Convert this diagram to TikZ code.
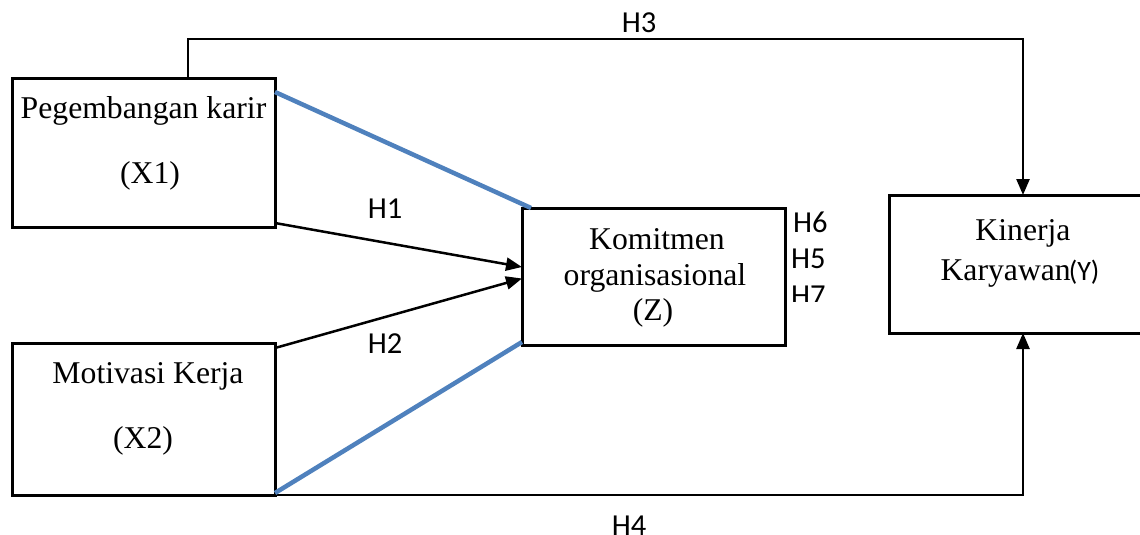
\documentclass[tikz,border=0pt]{standalone}
\usepackage{fontspec}
\setmainfont{Liberation Serif}
\newfontfamily\labelfont{Carlito}
\usetikzlibrary{arrows.meta,calc}
\definecolor{linkblue}{RGB}{79,129,189}
\begin{document}
\begin{tikzpicture}[x=1pt,y=-1pt,
  box/.style={draw,line width=3pt,inner sep=0pt,outer sep=0pt,fill=white},
  conn/.style={line width=2.5pt},
  arr/.style={conn,-{Triangle[length=16pt,width=13pt]}},
  blueline/.style={line width=4.5pt,draw=linkblue},
  txt/.style={anchor=base,inner sep=0pt,font=\fontsize{31.7}{38}\selectfont},
  hlab/.style={anchor=base,inner sep=0pt,font=\labelfont\fontsize{30.5}{36}\selectfont}]
\useasboundingbox (0,0) rectangle (1140,535);
\clip (0,0) rectangle (1140,535);

% variable boxes
\node[box,minimum width=263pt,minimum height=149pt] (x1) at (143.5,152.5) {};
\node[box,minimum width=263pt,minimum height=152pt] (x2) at (143.5,419) {};
\node[box,minimum width=263pt,minimum height=137pt] (z) at (653.5,276.5) {};
\node[box,minimum width=268pt,minimum height=138pt] (y) at (1023,264) {};

% bend points of the outer paths
\coordinate (h3a) at (188,39);
\coordinate (h4a) at (122,495);

% connectors
\draw[arr] (x1.north -| h3a) -- (h3a) -| (y.north);
\draw[arr] (h4a) -| (y.south);
\draw[arr] ($(x1.south east)+(0,-4)$) -- ($(z.west)+(0,-9.5)$);
\draw[arr] ($(x2.north east)+(0,5)$) -- ($(z.west)+(0,2)$);
\draw[blueline] ($(x1.north east)+(0,14)$) -- ($(z.north west)+(9,0)$);
\draw[blueline] ($(x2.south east)+(0,-2)$) -- ($(z.south west)+(0,-3)$);

% box texts
\node[txt] (x1a) at (143.5,118) {Pegembangan karir};
\node[txt] (x1b) at (150,183) {(X1)};
\node[txt] (x2a) at (148,383) {Motivasi Kerja};
\node[txt] (x2b) at (143,448) {(X2)};
\node[txt] (za) at (657,249) {Komitmen};
\node[txt] (zb) at (655,285) {organisasional};
\node[txt] (zc) at (653,320) {(Z)};
\node[txt] (ya) at (1023,240) {Kinerja};
\node[txt] (yb) at (1020,280) {Karyawan\kern-2pt{\labelfont\fontsize{28}{32}\selectfont(Y)}};

% hypothesis labels
\node[hlab] (h1) at (385,218) {H1};
\node[hlab] (h2) at (385,353) {H2};
\node[hlab] (h3) at (639,33) {H3};
\node[hlab] (h4) at (629,535) {H4};
\node[hlab,anchor=base west] (h6) at (793,232) {H6};
\node[hlab,anchor=base west] (h5) at (791,268) {H5};
\begin{scope}
  \clip (780,280) rectangle (840,301);
  \node[hlab,anchor=base west] (h7) at (791,305) {H7};
\end{scope}
\end{tikzpicture}
\end{document}
